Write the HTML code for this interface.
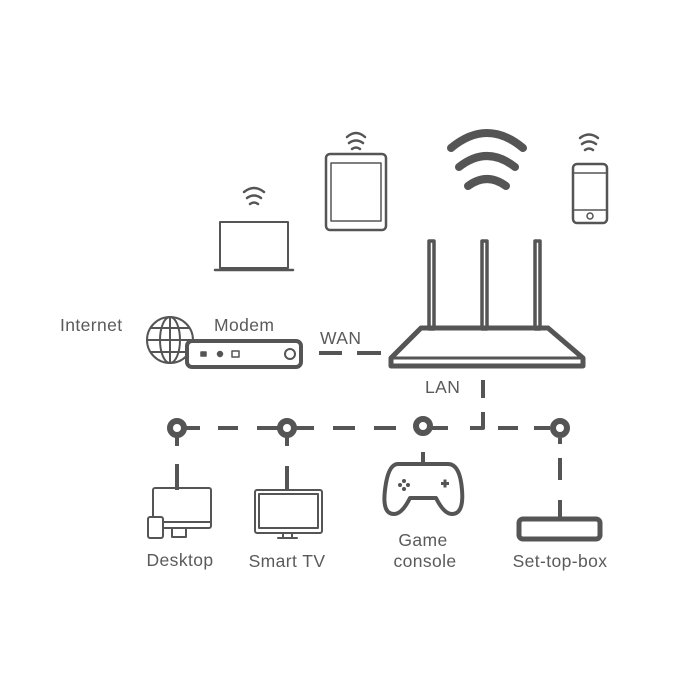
<!DOCTYPE html><html><head><style>body{margin:0;background:#fff}svg{display:block}text{font-family:"Liberation Sans",sans-serif;fill:#5a5a5a;font-size:17.5px;letter-spacing:0.4px}</style></head><body>
<svg width="700" height="700" viewBox="0 0 700 700" fill="none" stroke="#555" stroke-linecap="round" stroke-linejoin="round">
<g stroke-width="8"><path d="M451 148 Q487 118 523 148"/><path d="M459 167 Q487 145 515 167"/><path d="M468 186 Q487 172 506 186"/></g>
<g stroke-width="2.5">
<path d="M244 192 Q254 184 264 192"/><path d="M247 198 Q254 193 261 198"/><path d="M250 204 Q254 201 258 204"/>
<path d="M347 137 Q356 129 365 137"/><path d="M349 143 Q356 138 363 143"/><path d="M352 149 Q356 146 360 149"/>
<path d="M580 138 Q589 131 598 138"/><path d="M582 144 Q589 139 596 144"/><path d="M585 150 Q589 147 593 150"/>
</g>
<rect x="220" y="222" width="68" height="46" stroke-width="2"/>
<path d="M215 270 H293" stroke-width="2.5"/>
<rect x="326" y="154" width="60" height="76" rx="4" stroke-width="2.5"/><rect x="331" y="163" width="50" height="58" stroke-width="1.5"/>
<rect x="573" y="164" width="34" height="59" rx="4" stroke-width="2.5"/><path d="M573 173 H607 M573 210 H607" stroke-width="1.5"/><circle cx="590" cy="216" r="3" stroke-width="1.5"/>
<g stroke-width="3.5"><rect x="429" y="241" width="5" height="88"/><rect x="482" y="241" width="5" height="88"/><rect x="535" y="241" width="5" height="88"/></g>
<path d="M421 328 H548 L583 358 V366 H391 V358 Z" stroke-width="5"/>
<path d="M391 358 H583" stroke-width="3"/>
<g stroke-width="2"><circle cx="170" cy="340" r="23"/><ellipse cx="170" cy="340" rx="10" ry="23"/><path d="M170 317 V363 M147 340 H193 M151 328 H189 M151 352 H189"/></g>
<rect x="187" y="341" width="114" height="26" rx="5" stroke-width="4" fill="#fff"/>
<g stroke-width="1.5"><rect x="201" y="352" width="5" height="4" fill="#555"/><circle cx="220" cy="354" r="2.5" fill="#555"/><rect x="232" y="351" width="7" height="6"/><circle cx="290" cy="354" r="5" stroke-width="2"/></g>
<g stroke-width="4" stroke-linecap="butt">
<path d="M319 353 H342 M357 353 H381"/>
<path d="M483 380 V398 M483 412 V428 H470"/>
<path d="M185 428 H200 M218 428 H238 M257 428 H278 M296 428 H314 M333 428 H355 M374 428 H396 M414 428 H415 M432 428 H448 M498 428 H518 M534 428 H550"/>
<path d="M177 436 V446 M177 464 V490 M287 436 V446 M287 466 V491 M423 452 V464 M560 438 V444 M560 458 V480 M560 500 V520"/>
</g>
<g stroke-width="6"><circle cx="177" cy="428" r="7"/><circle cx="287" cy="428" r="7"/><circle cx="423" cy="426" r="7"/><circle cx="560" cy="428" r="7"/></g>
<g stroke-width="2"><rect x="153" y="488" width="58" height="40" rx="2"/><path d="M153 522 H211 M172 528 V537 H186 V528"/><rect x="148" y="517" width="15" height="21" rx="2" fill="#fff"/></g>
<g stroke-width="2"><rect x="255" y="490" width="67" height="43" rx="2"/><rect x="259" y="494" width="59" height="34"/><path d="M283 533 V538 M292 533 V538 M278 538 H297"/></g>
<path d="M398 464 H448 Q460 464 462 490 Q464 514 452 514 Q444 514 436 498 H410 Q402 514 394 514 Q382 514 385 490 Q388 464 398 464 Z" stroke-width="4"/>
<g fill="#555" stroke="none"><circle cx="404" cy="481" r="2"/><circle cx="400" cy="485" r="2"/><circle cx="408" cy="485" r="2"/><circle cx="404" cy="489" r="2"/><rect x="441" y="482" width="8" height="3"/><rect x="443.5" y="479.5" width="3" height="8"/></g>
<rect x="519" y="519" width="81" height="20" rx="4" stroke-width="5"/>
<g stroke="none">
<text x="60" y="331">Internet</text><text x="214" y="331">Modem</text><text x="320" y="344">WAN</text><text x="425" y="393">LAN</text>
<text x="180" y="566" text-anchor="middle">Desktop</text><text x="287" y="567" text-anchor="middle">Smart TV</text>
<text x="423" y="546" text-anchor="middle">Game</text><text x="425" y="567" text-anchor="middle">console</text><text x="560" y="567" text-anchor="middle">Set-top-box</text>
</g>
</svg></body></html>
